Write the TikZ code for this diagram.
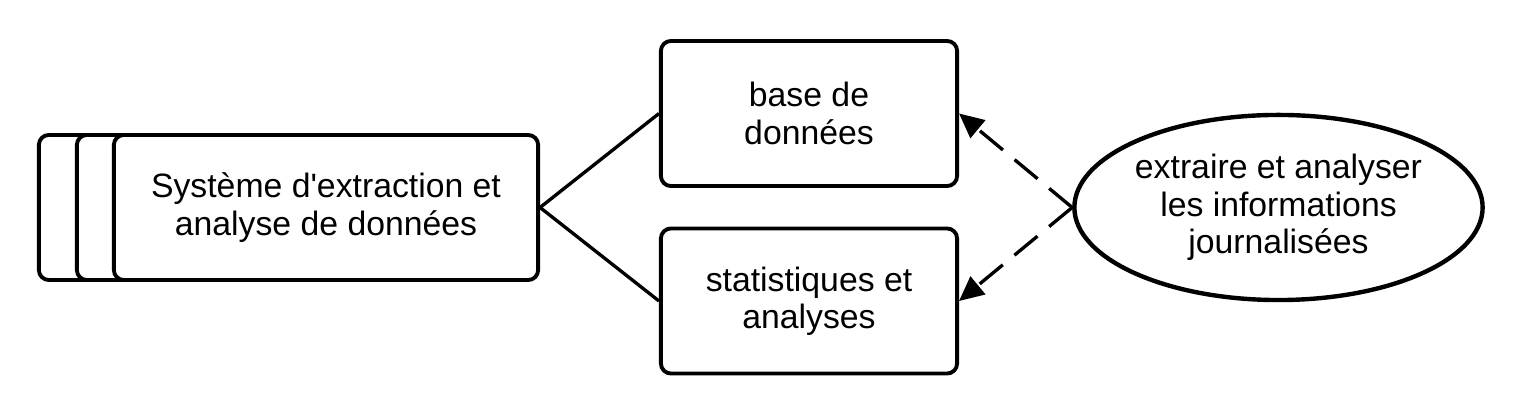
\documentclass[tikz,border=0pt]{standalone}
\usepackage{fontspec}
\setmainfont{Liberation Sans}
\usetikzlibrary{arrows.meta,shapes.geometric}
\begin{document}
\begin{tikzpicture}[x=0.01cm,y=-0.01cm,
  every node/.style={font=\fontsize{9.6pt}{10.6pt}\selectfont, align=center},
  box/.style={draw, line width=1.1pt, rounded corners=0.1cm, fill=white, inner sep=0pt},
  bigbox/.style={box, minimum width=4.24cm, minimum height=1.45cm},
  smallbox/.style={box, minimum width=2.96cm, minimum height=1.45cm},
  oval/.style={draw, ellipse, line width=1.25pt, inner sep=0pt, minimum width=4.08cm, minimum height=1.85cm},
  conn/.style={line width=0.95pt},
  dconn/.style={line width=0.95pt, dash pattern=on 8.5pt off 4.3pt, -{Triangle[length=7pt,width=6.5pt]}}
]
\useasboundingbox (0,0) rectangle (1539,407);
\node[bigbox] (back) at (251,207.5) {};
\node[bigbox] (mid) at (289,207.5) {};
\node[bigbox] (sys) at (326,207.5) {Système d\textquotesingle extraction et\\analyse de données};
\node[smallbox] (db) at (809,113.5) {base de\\données};
\node[smallbox] (stat) at (809,301) {statistiques et\\analyses};
\node[oval] (ext) at (1278.5,207.5) {extraire et analyser\\les informations\\journalisées};
\draw[conn] (sys.east) -- (db.west);
\draw[conn] (sys.east) -- (stat.west);
\draw[dconn] (ext.west) -- (db.east);
\draw[dconn] (ext.west) -- (stat.east);
\end{tikzpicture}
\end{document}
